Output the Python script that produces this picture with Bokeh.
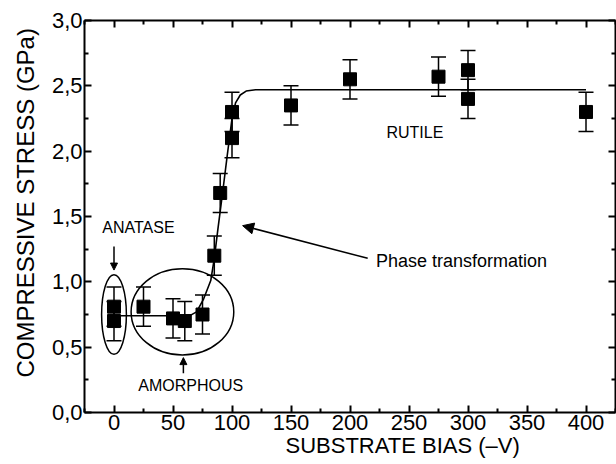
from bokeh.plotting import figure
from bokeh.models import (Range1d, LinearAxis, FixedTicker, Whisker, TeeHead,
                          ColumnDataSource, Arrow, NormalHead, Label, Title,
                          CustomLabelingPolicy)
from bokeh.embed import file_html
from bokeh.resources import INLINE

# ---- data ----
bias = [0, 0, 25, 50, 60, 75, 85, 90, 100, 100, 150, 200, 275, 300, 300, 400]
stress = [0.81, 0.70, 0.81, 0.72, 0.70, 0.75, 1.20, 1.68, 2.10, 2.30,
          2.35, 2.55, 2.57, 2.62, 2.40, 2.30]
stress_err = [0.15, 0.15, 0.15, 0.15, 0.15, 0.15, 0.15, 0.15, 0.15, 0.15,
              0.15, 0.15, 0.15, 0.15, 0.15, 0.15]

fit_bias = [0, 60, 65, 70, 76, 82, 85, 88, 92, 96, 100, 103, 107, 112, 120, 400]
fit_stress = [0.74, 0.74, 0.745, 0.77, 0.87, 1.01, 1.18, 1.40, 1.68, 1.97,
              2.25, 2.37, 2.43, 2.46, 2.47, 2.47]

x_ticks = [0, 50, 100, 150, 200, 250, 300, 350, 400]
x_minor = [-25, 25, 75, 125, 175, 225, 275, 325, 375, 425]
y_ticks = [0.0, 0.5, 1.0, 1.5, 2.0, 2.5, 3.0]
y_tick_labels = ["0,0", "0,5", "1,0", "1,5", "2,0", "2,5", "3,0"]
y_minor = [0.25, 0.75, 1.25, 1.75, 2.25, 2.75]

FONT = "Liberation Sans"

p = figure(output_backend="svg", toolbar_location=None,
           x_range=Range1d(-25, 425), y_range=Range1d(0, 3.0),
           x_axis_location=None, y_axis_location=None,
           min_border_left=84, min_border_right=1, min_border_top=20,
           min_border_bottom=50)
p.frame_width = 531
p.frame_height = 392
p.outline_line_color = None
p.xgrid.visible = False
p.ygrid.visible = False
p.background_fill_color = "white"
p.border_fill_color = "white"

xt = FixedTicker(ticks=x_ticks, minor_ticks=x_minor)
yt = FixedTicker(ticks=y_ticks, minor_ticks=y_minor)

hide_all = CustomLabelingPolicy(code="""
    const idx = [...indices]
    for (const i of idx) { indices.unset(i) }
    return indices
""")


def style(ax, labels=True):
    ax.axis_line_width = 2
    ax.axis_line_color = "black"
    ax.major_tick_in = 7
    ax.major_tick_out = 0
    ax.minor_tick_in = 4
    ax.minor_tick_out = 0
    ax.major_tick_line_width = 2
    ax.minor_tick_line_width = 2
    ax.major_tick_line_color = "black"
    ax.minor_tick_line_color = "black"
    ax.major_label_text_font = FONT
    ax.major_label_text_font_size = "22px"
    ax.major_label_text_color = "black"
    ax.major_label_standoff = 2
    if not labels:
        ax.major_label_policy = hide_all
        ax.major_label_standoff = 0


bottom = LinearAxis(ticker=xt)
style(bottom)
p.add_layout(bottom, "below")
top = LinearAxis(ticker=xt)
style(top, labels=False)
p.add_layout(top, "above")

left = LinearAxis(ticker=yt,
                  major_label_overrides=dict(zip(y_ticks, y_tick_labels)))
style(left)
p.add_layout(left, "left")
right = LinearAxis(ticker=yt)
style(right, labels=False)
p.add_layout(right, "right")

# axis titles
p.add_layout(Title(text="SUBSTRATE BIAS (–V)", align="left", offset=201,
                   vertical_align="top",
                   text_font=FONT, text_font_size="22px",
                   text_font_style="normal", text_color="black",
                   standoff=0), "below")
p.add_layout(Title(text="COMPRESSIVE STRESS (GPa)", align="left", offset=35,
                   vertical_align="top",
                   text_font=FONT, text_font_size="24px",
                   text_font_style="normal", text_color="black",
                   standoff=16), "left")

# fit line
p.line(fit_bias, fit_stress, line_color="black", line_width=1.6)

# error bars
src = ColumnDataSource(dict(
    x=bias, y=stress,
    upper=[s + e for s, e in zip(stress, stress_err)],
    lower=[s - e for s, e in zip(stress, stress_err)]))
w = Whisker(source=src, base="x", upper="upper", lower="lower",
            line_color="black", line_width=1.5,
            upper_head=TeeHead(size=15, line_color="black", line_width=1.5),
            lower_head=TeeHead(size=15, line_color="black", line_width=1.5))
p.add_layout(w)

p.scatter("x", "y", source=src, marker="square", size=13,
          fill_color="black", line_color="black")

# ellipses around phases
p.ellipse(x=[0, 58], y=[0.75, 0.77], width=[21, 87], height=[0.61, 0.66],
          fill_color=None, line_color="black", line_width=1.5)

# annotations
ann = dict(text_font=FONT, text_font_size="16px", text_color="black",
           text_align="center", text_baseline="middle")
p.add_layout(Label(x=20.7, y=1.415, text="ANATASE", **ann))
p.add_layout(Label(x=65, y=0.21, text="AMORPHOUS", **ann))
p.add_layout(Label(x=255, y=2.14, text="RUTILE", **ann))
p.add_layout(Label(x=294.5, y=1.157, text="Phase transformation",
                   text_font=FONT, text_font_size="18px", text_color="black",
                   text_align="center", text_baseline="middle"))

p.add_layout(Arrow(x_start=0, y_start=1.27, x_end=0, y_end=1.09,
                   line_width=1.5,
                   end=NormalHead(size=7, fill_color="black", line_color="black")))
p.add_layout(Arrow(x_start=58.8, y_start=0.30, x_end=58.8, y_end=0.42,
                   line_width=1.5,
                   end=NormalHead(size=7, fill_color="black", line_color="black")))
p.add_layout(Arrow(x_start=215, y_start=1.18, x_end=109, y_end=1.43,
                   line_width=1.5,
                   end=NormalHead(size=11, fill_color="black", line_color="black")))

open("out.html", "w").write(file_html(p, INLINE))
